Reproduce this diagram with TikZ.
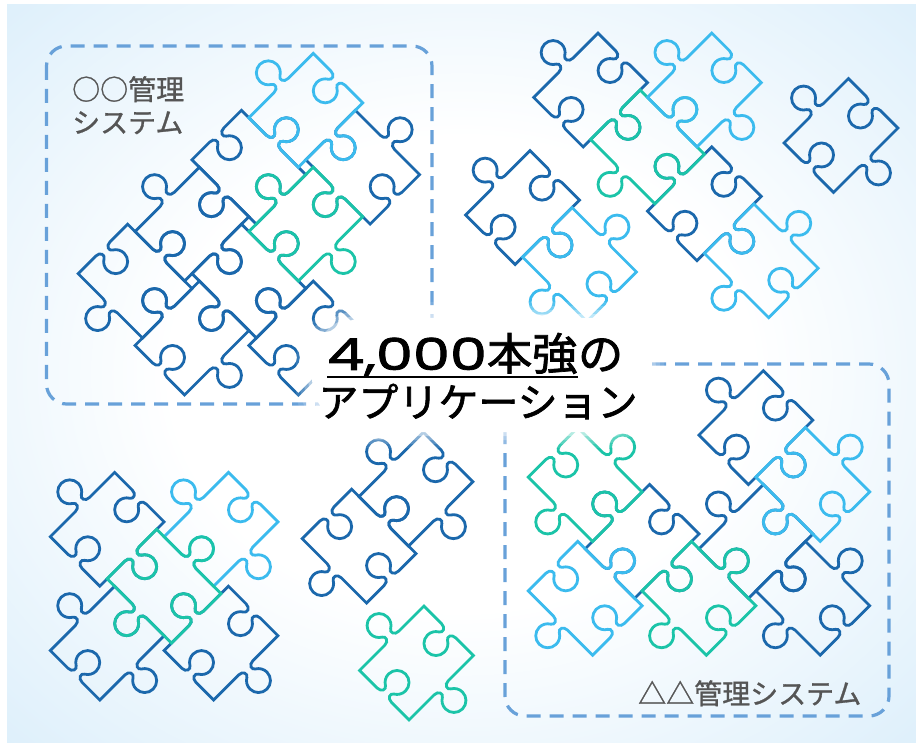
\documentclass[tikz,border=0pt]{standalone}
\usepackage{fontspec}
\newfontfamily\jpfont[FakeBold=1.6]{Noto Sans CJK JP}
\newfontfamily\jplabel[FakeBold=1.0]{Noto Sans CJK JP}
\newfontfamily\numfont[FakeBold=1.6]{Poppins}

\definecolor{pzdark}{RGB}{27,104,172}
\definecolor{pzlight}{RGB}{59,187,238}
\definecolor{pzgreen}{RGB}{27,196,168}
\definecolor{boxdash}{RGB}{104,161,217}
\definecolor{skyB}{RGB}{180,220,246}
\definecolor{labelgray}{RGB}{85,85,85}

% soft sky backdrop: white in the middle, pale blue towards the corners
\pgfdeclareradialshading{skyglow}{\pgfpoint{0bp}{0bp}}{%
  color(0bp)=(white); color(16bp)=(white); color(38bp)=(skyB!50!white);
  color(52bp)=(skyB!82!white); color(71bp)=(skyB)}

% one jigsaw piece: 91 x 70 body, tabs on the long sides, blanks on the short sides
\newcommand{\jigsawpath}{(-45.5,-35) -- (-10,-35)
 .. controls (-4,-35) and (-2.5,-40.6) .. (-6,-42.6)
 .. controls (-9.7,-44.75) and (-12,-48.7) .. (-12,-53)
 .. controls (-12,-59.6) and (-6.6,-65) .. (0,-65)
 .. controls (6.6,-65) and (12,-59.6) .. (12,-53)
 .. controls (12,-48.7) and (9.7,-44.75) .. (6,-42.6)
 .. controls (2.5,-40.6) and (4,-35) .. (10,-35) -- (45.5,-35) -- (45.5,-10)
 .. controls (45.5,-4) and (39.9,-2.5) .. (37.9,-6)
 .. controls (35.75,-9.7) and (31.8,-12) .. (27.5,-12)
 .. controls (20.9,-12) and (15.5,-6.6) .. (15.5,0)
 .. controls (15.5,6.6) and (20.9,12) .. (27.5,12)
 .. controls (31.8,12) and (35.75,9.7) .. (37.9,6)
 .. controls (39.9,2.5) and (45.5,4) .. (45.5,10) -- (45.5,35) -- (10,35)
 .. controls (4,35) and (2.5,40.6) .. (6,42.6)
 .. controls (9.7,44.75) and (12,48.7) .. (12,53)
 .. controls (12,59.6) and (6.6,65) .. (0,65)
 .. controls (-6.6,65) and (-12,59.6) .. (-12,53)
 .. controls (-12,48.7) and (-9.7,44.75) .. (-6,42.6)
 .. controls (-2.5,40.6) and (-4,35) .. (-10,35) -- (-45.5,35) -- (-45.5,10)
 .. controls (-45.5,4) and (-39.9,2.5) .. (-37.9,6)
 .. controls (-35.75,9.7) and (-31.8,12) .. (-27.5,12)
 .. controls (-20.9,12) and (-15.5,6.6) .. (-15.5,0)
 .. controls (-15.5,-6.6) and (-20.9,-12) .. (-27.5,-12)
 .. controls (-31.8,-12) and (-35.75,-9.7) .. (-37.9,-6)
 .. controls (-39.9,-2.5) and (-45.5,-4) .. (-45.5,-10) -- cycle}

\tikzset{
  jig/.pic={\draw[pic actions] \jigsawpath;},
  piece/.style={line width=2.8pt, line join=miter},
  % A: long axis along the rising diagonal, B: along the falling diagonal
  pa/.style={rotate=45},
  pb/.style={rotate=-45},
  groupbox/.style={draw=boxdash, line width=3.2pt, dash pattern=on 14pt off 9pt, rounded corners=20pt},
  label/.style={font=\jplabel\fontsize{28}{33}\selectfont, text=labelgray, inner sep=0pt},
  headline/.style={inner sep=0pt, xscale=1.03, transform shape, font=\jpfont\fontsize{44}{50}\selectfont},
}
% \jigpiece{x}{y}{pa|pb}{colour}
\newcommand{\jigpiece}[4]{\pic[piece, draw=#4, #3] at (#1,#2) {jig};}

\begin{document}
\begin{tikzpicture}[x=1pt, y=-1pt]
\useasboundingbox (0,0) rectangle (916,743);
\fill[white] (0,0) rectangle (916,743);
\shade[shading=skyglow] (7,5) rectangle (916,743);

% dashed system frames
\draw[groupbox] (46.5,46) rectangle (432,404);
\draw[groupbox] (505,364) rectangle (889,716);

% ---- cluster inside the first frame
\jigpiece{362.7}{167.2}{pb}{pzdark}
\jigpiece{248.9}{167.2}{pb}{pzdark}
\jigpiece{192.0}{224.1}{pa}{pzdark}
\jigpiece{135.1}{281.1}{pb}{pzdark}
\jigpiece{248.9}{281.1}{pb}{pzdark}
\jigpiece{192.0}{338.0}{pa}{pzdark}
\jigpiece{305.8}{338.0}{pa}{pzdark}
\jigpiece{305.8}{110.3}{pa}{pzlight}
\jigpiece{305.8}{224.1}{pa}{pzgreen}

% ---- cluster top right
\jigpiece{590.6}{90.0}{pa}{pzdark}
\jigpiece{704.4}{203.8}{pa}{pzdark}
\jigpiece{522.6}{207.6}{pa}{pzdark}
\jigpiece{841.0}{135.5}{pa}{pzdark}
\jigpiece{647.5}{146.9}{pb}{pzgreen}
\jigpiece{704.4}{90.0}{pa}{pzlight}
\jigpiece{761.3}{260.8}{pb}{pzlight}
\jigpiece{579.5}{264.5}{pb}{pzlight}

% ---- cluster bottom left
\jigpiece{107.2}{529.3}{pa}{pzdark}
\jigpiece{107.2}{643.1}{pa}{pzdark}
\jigpiece{221.0}{643.1}{pa}{pzdark}
\jigpiece{221.0}{529.3}{pa}{pzlight}
\jigpiece{164.1}{586.2}{pb}{pzgreen}

% ---- pair and single piece, bottom middle
\jigpiece{416.0}{489.2}{pa}{pzdark}
\jigpiece{359.1}{546.1}{pb}{pzdark}
\jigpiece{416.5}{663.0}{pa}{pzgreen}

% ---- cluster inside the second frame
\jigpiece{755.9}{427.6}{pa}{pzdark}
\jigpiece{755.9}{541.4}{pa}{pzdark}
\jigpiece{812.8}{598.3}{pb}{pzdark}
\jigpiece{642.1}{541.4}{pa}{pzdark}
\jigpiece{812.8}{484.5}{pb}{pzlight}
\jigpiece{585.2}{598.3}{pb}{pzlight}
\jigpiece{585.2}{484.5}{pb}{pzgreen}
\jigpiece{699.0}{598.3}{pb}{pzgreen}

% white glow behind the headline
\foreach \g/\o in {16/0.12, 12/0.18, 8/0.25, 4/0.4}
  \fill[white, opacity=\o, rounded corners=60pt] (312-\g,318-\g) rectangle (648+\g,432+\g);
\fill[white, rounded corners=55pt] (312,318) rectangle (648,432);

% headline
\node[headline, anchor=base west] (count) at (327,370)
  {\scalebox{1.3}[1]{\numfont 4,000}本強};
\node[headline, anchor=base west] (nosuffix) at (count.base east) {の};
\draw[line width=2.5pt] ([yshift=-7pt]count.base west) -- ([yshift=-7pt]count.base east);
\node[inner sep=0pt, anchor=base, font=\jpfont\fontsize{40}{46}\selectfont]
  (apps) at (478,417) {アプリケーション};

% frame captions
\node[label, anchor=north west, align=left] (sysA) at (72,76) {○○管理\\システム};
\node[label, anchor=base west] (sysB) at (638,704) {△△管理システム};
\end{tikzpicture}
\end{document}
